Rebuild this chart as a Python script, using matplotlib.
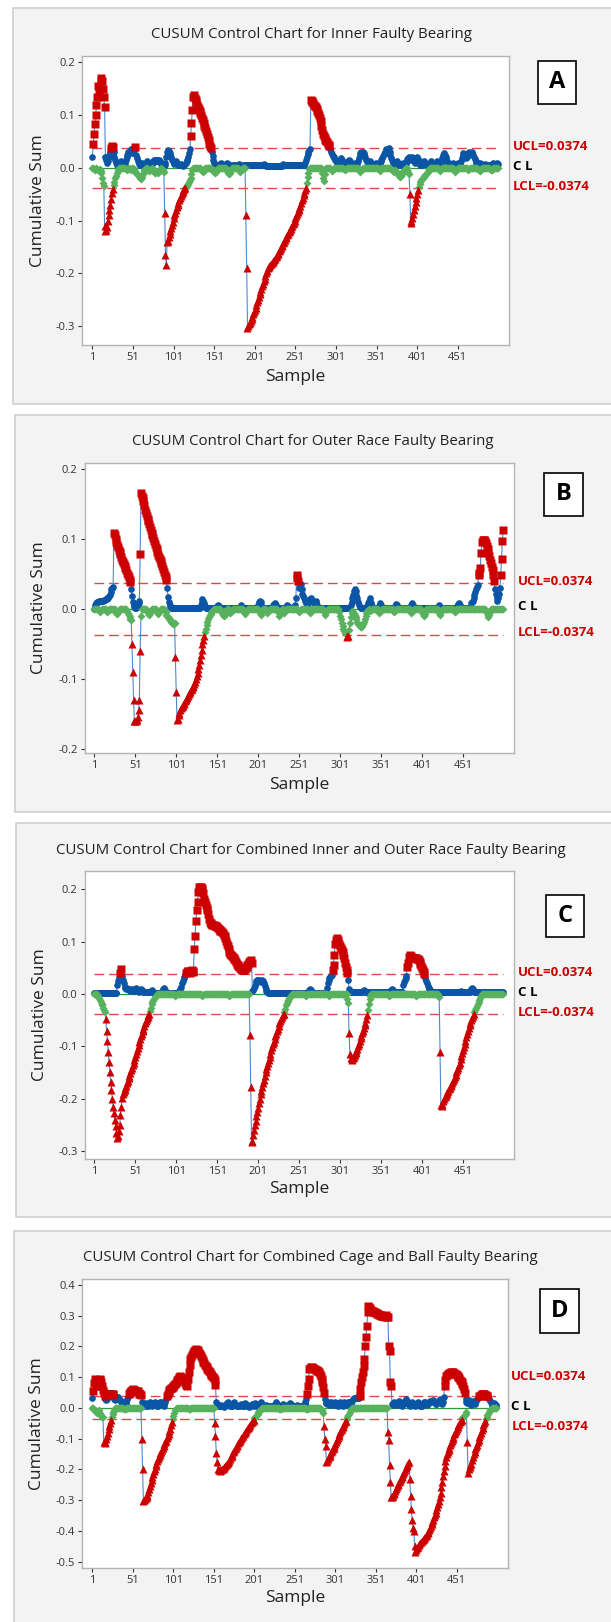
import numpy as np
import matplotlib
matplotlib.use("Agg")
import matplotlib.pyplot as plt
from matplotlib.patches import Rectangle

plt.rcParams['font.family'] = ['Open Sans', 'DejaVu Sans']

UCL = 0.0374
LCL = -0.0374
xticks = [1, 51, 101, 151, 201, 251, 301, 351, 401, 451]

# cusum values, in thousandths, one per sample (1..500)
A_up = ([20, 45, 65, 83, 100, 120, 135, 155, 140, 150, 165, 170, 165, 150, 135, 115]
        + [20, 15, 10, 12, 20, 25, 30, 38, 42, 40, 30, 20, 15, 10, 5, 3]
        + [5, 8, 10, 12, 10, 8, 6, 8, 10, 15, 20]
        + [25, 30, 28, 32, 35, 30, 28, 32, 36, 40, 35, 25, 18, 12]
        + [8, 6, 5, 8, 10, 8, 6, 5, 8, 10, 12, 10, 8, 6, 5, 6, 8, 10]
        + [12, 14, 15, 14, 12, 13, 15, 14, 12, 10, 8, 6, 5, 4, 5, 10, 20]
        + [30, 33, 32, 28, 25, 20, 15, 12]
        + [10, 8, 10, 12, 10, 8, 6, 5, 6, 8, 6, 5, 4, 5, 8, 10, 12, 15, 20, 28]
        + [35, 60, 85, 110, 135, 138, 132, 128, 124, 120, 116, 112, 108, 104, 100, 95, 90,
           85, 80, 75, 70, 64, 58, 52, 46, 42, 38]
        + [30, 22, 15, 10, 8, 6, 5, 4, 5, 6, 8, 10, 8]
        + [6, 5, 4, 5, 6, 8, 10, 8, 6, 5, 4, 3, 4, 5, 6, 5, 4, 3, 4, 5, 6, 8, 6, 5, 4, 3, 4, 5, 6, 5]
        + [5] * 20 + [6, 8, 6, 5] + [4] * 20 + [6, 8, 6] + [5] * 25
        + [10, 15, 20, 26, 30, 34, 36]
        + [128, 126, 124, 122, 120, 118, 115, 112, 108, 104, 100, 95, 88, 80, 72, 65, 60, 56,
           52, 50, 48, 46, 44, 42]
        + [35, 30, 26, 22, 20, 18, 15, 12, 10, 8, 10, 12, 15, 18, 15, 12, 10]
        + [8, 6, 5, 6, 8, 12, 15, 12, 8, 6, 5, 6, 8, 10, 8, 6, 8, 12, 18, 24]
        + [28, 30, 26, 30, 28, 24, 20, 15, 12, 10, 8, 10, 12, 10, 8]
        + [6, 5, 6, 8, 10, 8, 6, 5, 6, 8, 12, 15, 18, 22, 26]
        + [30, 36, 32, 28, 34, 37, 30, 24, 18, 14, 10, 8, 6, 8, 10]
        + [12, 10, 8, 6, 5, 6, 8, 10, 8, 6, 5, 8, 12, 16, 18]
        + [20, 16, 14, 18, 20, 16, 12, 10, 14, 18, 20, 16, 12, 8, 6, 5, 6, 8, 10, 12]
        + [10, 8, 6, 5, 6, 8, 10, 12, 10, 8, 6, 5, 6, 8, 10, 12, 10, 8, 6, 8, 12, 18, 24, 28, 24]
        + [20, 16, 12, 10, 8, 6, 5, 6, 8, 10, 8, 6, 5, 6, 8, 10, 8, 6, 8, 12]
        + [18, 24, 28, 26, 22, 18, 20, 24, 28, 30, 28, 26, 30, 28, 24, 20, 16, 12, 10, 8, 6, 8, 10, 8, 6]
        + [5, 4, 5, 6, 8, 6, 5, 4, 5, 6, 5, 4, 6, 8, 10, 8, 6, 8, 10, 8])

A_lo = ([0, 0, -2, -4, -2, 0, -3, -5, -4, -2, -6, -10, -20, -28, -35, -110, -120, -118, -112,
         -100, -90, -80, -70, -60, -48, -40, -32, -26, -20, -15, -10, -6, -2]
        + [0] * 8 + [-3, -5, -3, 0, 0, -2, -4, -2, 0, 0, -3, -6, -8, -10, -12, -14, -16, -18]
        + [-20, -22, -18, -12, -8, -5, -3, 0, 0, -2, -4, -6, -4, -2, 0, -3, -6, -8, -10, -8, -6,
           -8, -10, -7, -4, -2, 0, -3, -5, -8]
        + [-85, -165, -185, -140, -138, -132, -126, -120, -114, -108, -102, -96, -90, -85, -80,
           -75, -70, -66, -62, -58, -54, -50, -46, -43, -40, -38, -36, -34, -32, -30, -27, -24,
           -20, -12, -4]
        + [0] * 10 + [-3, -6, -8, -6, -3] + [0] * 8 + [-2, -4, -6, -8, -10, -8, -5, -2] + [0] * 10
        + [-3, -6, -10, -12, -10, -6, -3] + [0] * 8 + [-2, -5, -8, -5, -2] + [0] * 4
        + [-90, -190, -303, -300, -297, -294, -290, -286, -282, -278, -274, -270, -265, -260,
           -255, -250, -245, -240, -235, -230, -225, -220, -215, -210, -205, -200, -195, -190,
           -188, -186, -184, -182, -180, -178, -176, -174, -172, -170, -167, -164, -161, -158,
           -155, -152, -149, -146, -143, -140, -137, -134, -131, -128, -125, -122, -119, -116,
           -113, -110, -107, -104, -100, -96, -92, -88, -84, -80, -76, -72, -67, -62, -57, -52,
           -47, -42, -38, -28, -18]
        + [-10, -3] + [0] * 15 + [-10, -20, -25, -12, -3]
        + [0] * 6 + [-3, -6, -4, -2] + [0] * 12 + [-3, -5, -3] + [0] * 15 + [-2, -5, -8, -5, -2]
        + [0] * 20 + [-3, -6, -3] + [0] * 12 + [-2, -4, -6, -8, -6, -4, -6, -10, -12, -14, -16, -18]
        + [-16, -12, -8, -6, -4, -2, 0, 0, -4, -8, -12]
        + [-50, -105, -100, -95, -88, -80, -72, -65, -58, -50, -42, -36, -30, -27, -24, -22, -20,
           -18, -16, -14, -12, -10, -8, -5, -3, 0]
        + [0] * 10 + [-3, -6, -3] + [0] * 15 + [-2, -5, -8, -5, -2] + [0] * 12 + [-3, -5, -3]
        + [0] * 10 + [-2, -4, -6, -4, -2] + [0] * 10 + [-3, -5, -4, -2, 0] + [0] * 5)

B_up = ([0, 5, 8, 10, 10, 10, 11, 11, 12, 12, 12, 12, 13, 13, 14, 14, 15, 16, 18, 20, 24, 28, 30, 32]
        + [108, 105, 100, 96, 92, 88, 84, 81, 78, 74, 70, 67, 64, 61, 58, 55, 52, 48, 45, 42, 39]
        + [29, 18, 10, 5, 3, 2, 2, 3, 5, 8, 12]
        + [78, 165, 162, 158, 154, 148, 142, 137, 133, 129, 125, 121, 117, 113, 109, 105, 101,
           97, 93, 89, 85, 81, 77, 74, 71, 68, 65, 61, 57, 53, 49, 45, 41]
        + [30, 17, 10, 5, 3, 2, 2, 2, 2, 2, 2]
        + [2] * 30
        + [5, 10, 14, 12, 8, 4, 2, 2, 2, 2]
        + [2] * 10 + [4, 6, 4] + [2] * 25 + [3, 5, 3] + [2] * 19
        + [6, 10, 12, 10, 6, 3, 2, 2, 2, 2, 2, 2, 2, 2, 2, 2, 2, 3, 5, 7, 8, 7, 5, 3, 2, 2, 2, 2, 2, 2]
        + [2, 2, 2, 2, 3, 5, 4, 2, 2, 2, 2, 2, 2, 3, 3, 5, 15]
        + [48, 44, 40, 30, 36, 36, 28, 22, 18, 15, 12, 8, 5]
        + [5, 8, 12, 14, 15, 14, 12, 10, 8, 10, 12, 10, 6, 3, 2] + [2] * 25
        + [2] * 13 + [5, 10, 15, 20, 25, 28, 25, 20, 15, 10, 6, 3] + [2] * 8 + [4, 8, 12, 15, 12, 8, 4]
        + [2] * 8 + [4, 8, 6, 3] + [2] * 15 + [4, 7, 5, 3] + [2] * 15 + [3, 6, 8, 5, 3] + [2] * 9
        + [2] * 20 + [3, 5, 3] + [2] * 20 + [4, 7, 8, 6, 3] + [2] * 12
        + [8, 10, 12, 16, 20, 24, 28, 32, 34, 48, 52, 58, 80, 96, 98, 99, 98, 97, 94, 90, 85, 80,
           75, 70, 65, 60, 55, 48, 40, 29, 22, 15, 12, 15, 22, 30, 48, 72, 97, 113])

B_lo = ([0] * 6 + [-2, -4, -2] + [0] * 6 + [-3, -5, -3] + [0] * 8 + [-3, -6, -7, -5, -2] + [0] * 9
        + [-3, -6, -9, -12]
        + [-14, -16, -50, -90, -130, -160, -160, -160, -158, -155, -145, -130, -60, -10, 0]
        + [0] * 5 + [-2, -4, -6, -8, -6, -3] + [0] * 6 + [-3, -5, -7, -5, -3] + [0] * 5
        + [-2, -5, -8, -10, -12, -14, -15, -16, -18, -20]
        + [-21, -22, -20]
        + [-69, -119, -159, -157, -152, -148, -145, -142, -140, -138, -136, -134, -132, -130, -127, -124]
        + [-122, -120, -118, -116, -114, -112, -110, -107, -104, -100, -96, -91, -86, -80, -73,
           -66, -58, -50, -44, -38, -33, -28, -23, -19, -15, -12, -9, -7, -5, -3, -1, 0]
        + [0] * 8 + [-3, -6, -9, -10, -8, -5, -2] + [0] * 3 + [-3, -6, -4, -2] + [0] * 13
        + [-3, -5, -7, -4, -2] + [0] * 14 + [-3, -6, -8, -5, -2] + [0] * 4 + [-3, -6, -4, -2]
        + [0] * 10 + [-3, -6, -10, -7, -4] + [0] * 2 + [-3, -6, -3] + [0] * 15 + [-2, -5, -3]
        + [0] * 10 + [-3, -6, -4] + [0] * 15 + [-3, -6, -8, -5, -2] + [0] * 14
        + [-5, -10, -15, -20, -24, -28, -31, -34, -36, -38, -40, -38, -30, -20, -12, -6, -3]
        + [-4, -6, -9, -12, -15, -18, -21, -23, -25, -26, -26, -25, -22, -18, -14, -10, -6, -3,
           -1, 0, -2, -3, -1, 0]
        + [0] * 7 + [-3, -6, -4, -2] + [0] * 14 + [-3, -5, -3] + [0] * 18 + [-3, -6, -4, -2]
        + [0] * 10 + [-4, -7, -10, -7, -3] + [0] * 15 + [-3, -6, -8, -5, -2] + [0] * 14
        + [-3, -5, -3] + [0] * 36 + [-3, -6, -9, -11, -8, -4] + [0] * 16)

C_up = ([2] * 28
        + [17, 25, 30, 33, 40, 47, 35, 27, 20, 14, 12, 10, 11, 10, 8, 9]
        + [6, 8, 10, 8, 6, 5, 8, 11, 9, 6, 4, 5, 8, 10, 8, 5, 3] + [3] * 8 + [5, 8, 6, 3]
        + [2] * 10 + [5, 9, 11, 8, 4] + [2] * 16
        + [5, 10, 14, 20, 25, 30, 33, 36, 40, 42, 43, 44, 42, 40, 43, 45, 44, 42]
        + [85, 110, 140, 160, 175, 195, 205, 205, 204, 202]
        + [199, 192, 182, 176, 170, 165, 160, 152, 144, 138]
        + [135, 133, 132, 131, 131, 130, 130, 129, 128, 126]
        + [124, 122, 121, 120, 118, 116, 113, 110, 106, 101]
        + [96, 91, 86, 81, 77, 74, 72, 70, 68, 66]
        + [64, 61, 58, 55, 53, 51, 49, 47, 46, 45]
        + [45, 46, 48, 50, 52, 55, 58, 61, 63, 64, 60]
        + [5, 8, 12, 16, 20, 24, 26, 27, 26, 24, 22, 24, 26, 24, 20, 15, 10, 6, 3] + [2] * 39
        + [2] * 10 + [4, 7, 10, 8, 5, 3] + [2] * 17
        + [12, 20, 26, 30, 33, 35, 36, 45, 55, 75, 95, 103, 106, 104, 100, 96, 92, 88, 84, 80,
           75, 68, 60, 52, 45, 40, 27, 10, 5]
        + [4] * 15 + [6, 8, 6] + [3] * 30 + [5, 8, 10, 8, 5] + [3] * 11
        + [17, 22, 27, 30, 35, 52, 60, 70, 74, 73, 71, 69, 68, 68, 68, 69, 68, 67, 66, 65,
           62, 58, 54, 50, 46, 42, 38, 30, 25, 20, 15, 12, 10, 8, 6]
        + [4] * 15 + [3] * 20 + [5, 4] + [3] * 10 + [6, 10, 12, 9, 5] + [3] * 36)

C_lo = ([0, 0, 0, 0, -3, -6, -8, -12, -16, -20, -22, -26, -30, -34]
        + [-48, -70, -90, -110, -130, -150, -168, -184, -200, -215]
        + [-228, -240, -252, -265, -275, -272, -262, -250, -232, -215]
        + [-198, -192, -188, -184, -180, -176, -171, -166, -161, -156]
        + [-151, -146, -141, -136, -131, -126, -121, -115, -109, -103]
        + [-97, -91, -86, -81, -76, -71, -66, -61, -56, -52]
        + [-48, -44, -40, -38, -33, -26, -20, -16, -12, -9]
        + [-6, -4, -2, 0]
        + [0] * 20 + [-2, -3, -2] + [0] * 30 + [-2, -3, -2] + [0] * 30 + [-2, -3, -2] + [0] * 22
        + [0, -78, -177, -282, -280, -270, -260, -250, -242, -234]
        + [-226, -218, -208, -200, -192, -185, -178, -171, -164, -157]
        + [-150, -144, -138, -132, -126, -120, -114, -108, -102, -96]
        + [-91, -86, -81, -76, -71, -66, -61, -56, -52, -48]
        + [-44, -40, -38, -34, -28, -22, -18, -14, -11, -8]
        + [-5, -3, -1]
        + [0] * 15 + [-2, -3, -2] + [0] * 25 + [-2, -3, -2] + [0] * 21
        + [-10, -18, -75, -115, -123, -125, -126, -123, -120, -117]
        + [-113, -109, -105, -100, -95, -90, -85, -80, -75, -70]
        + [-65, -60, -55, -48, -40, -30, -20, -10, -4, 0]
        + [0] * 20 + [-2, -3, -2] + [0] * 30 + [-2, -4, -2] + [0] * 25
        + [-3, -6, -110, -212, -214, -210, -205, -201, -197, -194]
        + [-191, -188, -185, -182, -179, -176, -173, -170, -166, -162]
        + [-158, -154, -150, -146, -141, -136, -131, -125, -119, -113]
        + [-107, -101, -95, -89, -83, -77, -71, -65, -60, -55]
        + [-50, -46, -42, -39, -35, -31, -27, -23, -19, -15]
        + [-11, -7, -4, -1]
        + [0] * 26)

D_up = ([34, 55, 80, 95, 90, 80, 70, 72, 80, 90, 94, 85, 70, 60, 50, 40, 30, 25, 30, 36]
        + [45, 46, 45, 44, 45, 44, 42, 30, 25, 30, 36, 36, 35, 30, 25, 20, 18, 15, 18, 20, 18,
           15, 20, 30, 36]
        + [45, 48, 51, 55, 60, 62, 60, 58, 56, 55, 56, 54, 50, 46, 45, 42, 20]
        + [10, 5, 8, 12, 15, 10, 6, 8, 12, 18, 14, 10, 8, 12, 16, 20, 15, 10, 6, 8, 10, 14, 18,
           20, 16, 12, 8, 12, 20, 30]
        + [38, 45, 52, 58, 62, 64, 66, 68, 72, 75]
        + [78, 82, 86, 90, 95, 100, 105, 102, 98, 94]
        + [94, 90, 84, 78, 74, 72, 95, 116, 140, 159]
        + [166, 172, 178, 182, 186, 190, 192, 190, 187, 183]
        + [179, 175, 168, 162, 156, 150, 145, 140, 136, 132]
        + [128, 124, 120, 116, 112, 108, 104, 100, 96, 92]
        + [75]
        + [20, 12, 8, 5, 6, 8, 10, 8, 5, 4, 5, 8, 12, 15, 18, 15, 12, 8, 6, 5]
        + [8, 12, 18, 14, 10, 6, 5, 6, 8, 10, 12, 10, 8, 6, 8, 12, 16, 12, 8, 6]
        + [5, 4, 5, 8, 12, 10, 8, 12, 16, 12, 8, 6, 8, 10, 14, 18, 14, 10, 6, 5]
        + [6, 8, 10, 8, 6, 5, 4, 6, 8, 6, 5, 6, 10, 14, 18, 14, 10, 8, 6, 5]
        + [4, 5, 8, 12, 10, 8, 6, 5, 6, 8, 12, 16, 12, 8, 6, 5, 4, 5, 6, 8]
        + [10, 8, 6, 5, 6, 8, 6, 5, 8, 12, 20, 30]
        + [45, 70, 94, 127, 130, 132, 132, 131, 130, 128, 127, 125, 123, 121, 120, 118, 112,
           104, 94, 85, 67, 50, 29, 15]
        + [15, 12, 18, 14, 10, 15, 20, 16, 12, 10, 14, 18, 15, 10, 8, 12, 16, 20, 15, 10]
        + [8, 12, 18, 14, 10, 12, 16, 20, 18, 14, 12, 18, 24, 30, 34, 34, 32, 34, 35, 34, 33]
        + [40, 62, 83, 100, 116, 135, 160, 200, 232, 268]
        + [311, 333, 330, 325, 320, 316, 314, 313, 312, 311]
        + [309, 308, 306, 305, 304, 302, 301, 300, 300, 299]
        + [298, 297, 300, 303, 296, 295, 203, 186, 83, 72]
        + [13, 10, 15, 20, 16, 12, 10, 14, 18, 22, 18, 14, 10, 8, 12, 18, 24, 28, 24, 18]
        + [14, 10, 8, 12, 16, 20, 16, 12, 10, 8, 10, 14, 18, 14, 10, 8, 6, 8, 12, 16]
        + [20, 18, 14, 10, 12, 16, 20, 24, 22, 18, 22, 26, 22, 18, 14, 12, 16, 20, 24, 28]
        + [22, 16, 12, 20, 36]
        + [72, 90, 105, 108, 110, 112, 113, 115, 116, 116, 116, 115, 114, 112, 110, 108, 104,
           100, 96, 92, 88, 83, 78, 72, 62, 50, 29, 20, 15, 20, 25, 18, 12, 10, 15]
        + [22, 18, 14, 18, 24, 30, 34, 36, 38, 40, 42, 44, 45, 45, 44, 43, 42, 40, 38, 34, 28,
           22, 18, 14, 10, 12, 15, 12, 10, 8])

D_lo = ([0, 0, -5, -8, -10, -12, -15, -10, -8, -15, -20, -25, -30, -30, -110, -115, -110,
         -100, -90, -80, -70, -60, -50, -40, -30, -20, -12, -5, 0]
        + [0] * 10 + [-2, -3, -2] + [0] * 19
        + [-100, -199, -302, -300, -297, -293, -288, -282, -274, -265]
        + [-255, -245, -235, -225, -215, -206, -198, -190, -182, -174]
        + [-166, -160, -154, -148, -142, -136, -130, -124, -118, -112]
        + [-106, -99, -92, -84, -76, -67, -57, -46, -36, -26]
        + [-16, -8, -2]
        + [0] * 15 + [-2, -3, -2] + [0] * 29
        + [-50, -90, -145, -175, -199, -202, -204, -203, -202, -200]
        + [-198, -196, -193, -190, -187, -183, -179, -175, -171, -166]
        + [-161, -156, -150, -144, -139, -134, -129, -124, -119, -114]
        + [-110, -106, -102, -98, -94, -90, -86, -82, -78, -74]
        + [-70, -66, -62, -58, -54, -50, -46, -42, -38, -34]
        + [-30, -26, -22, -18, -14, -10, -7, -4, -2, 0]
        + [0] * 20 + [-2, -3, -2] + [0] * 30 + [-2, -3, -2] + [0] * 15 + [-3, -6, -10, -15]
        + [-60, -100, -123, -177, -172, -166, -160, -155, -150, -144]
        + [-139, -134, -129, -123, -117, -111, -104, -97, -90, -84]
        + [-78, -73, -68, -63, -58, -52, -47, -42, -36, -30]
        + [-24, -18, -12, -6, -2, 0]
        + [0] * 43
        + [-79, -105, -185, -240, -290, -290, -286, -280, -275, -270]
        + [-264, -258, -252, -247, -242, -237, -232, -226, -220, -214]
        + [-208, -202, -196, -190, -184, -178, -175, -232, -285, -330]
        + [-365, -390, -400, -450, -470, -462, -456, -451, -447, -443]
        + [-439, -436, -433, -430, -427, -424, -420, -416, -412, -408]
        + [-404, -398, -392, -385, -378, -371, -364, -356, -348, -340]
        + [-331, -322, -313, -304, -290, -275, -258, -240, -222, -205]
        + [-190, -172, -158, -150, -143, -136, -129, -122, -115, -108]
        + [-100, -93, -86, -80, -74, -68, -62, -57, -52, -47]
        + [-42, -38, -34, -30, -26, -22, -18, -14, -112, -210]
        + [-200, -193, -187, -181, -170, -160, -150, -142, -135, -128]
        + [-120, -112, -104, -96, -88, -80, -72, -64, -56, -48]
        + [-42, -36, -30, -24, -18, -12, -8, -4, -2, 0]
        + [0, 0, 0, 0, 0])

titles = ["CUSUM Control Chart for Inner Faulty Bearing",
          "CUSUM Control Chart for Outer Race Faulty Bearing",
          "CUSUM Control Chart for Combined Inner and Outer Race Faulty Bearing",
          "CUSUM Control Chart for Combined Cage and Ball Faulty Bearing"]
letters = ["A", "B", "C", "D"]
yticks_A = [0.2, 0.1, 0.0, -0.1, -0.2, -0.3]
yticks_B = [0.2, 0.1, 0.0, -0.1, -0.2]
yticks_C = [0.2, 0.1, 0.0, -0.1, -0.2, -0.3]
yticks_D = [0.4, 0.3, 0.2, 0.1, 0.0, -0.1, -0.2, -0.3, -0.4, -0.5]

for name, s in [("A_up", A_up), ("A_lo", A_lo), ("B_up", B_up), ("B_lo", B_lo),
                ("C_up", C_up), ("C_lo", C_lo), ("D_up", D_up), ("D_lo", D_lo)]:
    assert len(s) == 500, (name, len(s))

W, H = 611, 1622
fig = plt.figure(figsize=(W / 100, H / 100), dpi=100)
fig.patch.set_facecolor("white")


def fx(px):
    return px / W


def fy(py):
    return 1 - py / H


# layout in pixels: frame box, plot box, text anchors
layout = [
    dict(frame=(13, 8, 640, 404), plot=(82.2, 56, 508.6, 345), ylim=(-0.336, 0.212),
         xlim=(-11.6, 513.6), title=(311, 34), ylab=(38, 200.5), xlab=(295, 377),
         lim_x=513, lim_y=(147, 167, 186), box=(538, 61, 576, 104)),
    dict(frame=(15, 415, 640, 812), plot=(84.6, 462.7, 514.4, 752.7), ylim=(-0.2053, 0.209),
         xlim=(-10.8, 513.7), title=(313, 441.7), ylab=(39, 607.7), xlab=(299, 785),
         lim_x=518, lim_y=(581.7, 607, 632.7), box=(544, 473, 583, 516)),
    dict(frame=(16, 823, 640, 1217), plot=(84.6, 870.7, 513.6, 1159), ylim=(-0.3153, 0.2355),
         xlim=(-10.8, 512.8), title=(311, 850.7), ylab=(40, 1015), xlab=(299, 1189),
         lim_x=517.5, lim_y=(973, 993, 1012), box=(545.6, 895, 583.8, 937)),
    dict(frame=(13.6, 1231, 640, 1640), plot=(82.2, 1279, 507.8, 1568), ylim=(-0.5205, 0.4195),
         xlim=(-11.6, 514.1), title=(310.4, 1257.7), ylab=(37, 1423.5), xlab=(295, 1598),
         lim_x=511.3, lim_y=(1376, 1406.7, 1426.7), box=(539.7, 1289, 578.7, 1332.7)),
]

series = [(A_up, A_lo, yticks_A), (B_up, B_lo, yticks_B), (C_up, C_lo, yticks_C), (D_up, D_lo, yticks_D)]

BLUE = "#0a55a5"
LINE = "#4d89cf"
GREEN = "#58b15c"
RED = "#cc0000"

for i, (lay, (up, lo, yt)) in enumerate(zip(layout, series)):
    x0, y0, x1, y1 = lay["frame"]
    fig.patches.append(Rectangle((fx(x0), fy(y1)), fx(x1 - x0), (y1 - y0) / H,
                                 transform=fig.transFigure, facecolor="#f3f3f3",
                                 edgecolor="#d0d0d0", lw=1.2, zorder=-5))
    px0, py0, px1, py1 = lay["plot"]
    ax = fig.add_axes([fx(px0), fy(py1), fx(px1 - px0), (py1 - py0) / H])
    ax.set_zorder(2)
    ax.set_facecolor("white")

    x = np.arange(1, 501)
    u = np.array(up) / 1000.0
    l = np.array(lo) / 1000.0

    ax.plot([1, 500], [0, 0], color="#2f9a35", lw=0.9, zorder=1)
    ax.plot([1, 500], [UCL, UCL], color="#e04848", lw=1.0, dashes=(7, 3.5), zorder=1)
    ax.plot([1, 500], [LCL, LCL], color="#e04848", lw=1.0, dashes=(7, 3.5), zorder=1)
    ax.plot(x, u, color=LINE, lw=0.8, zorder=2)
    ax.plot(x, l, color=LINE, lw=0.8, zorder=2)

    ok = u <= UCL
    ax.plot(x[ok], u[ok], "o", ms=4.8, color=BLUE, mec="none", zorder=3)
    ax.plot(x[~ok], u[~ok], "s", ms=5.2, color=RED, mec="none", zorder=4)
    ok = l >= LCL
    ax.plot(x[ok], l[ok], "D", ms=4.2, color=GREEN, mec="none", zorder=4)
    ax.plot(x[~ok], l[~ok], "^", ms=6.0, color=RED, mec="none", zorder=5)

    ax.set_xlim(*lay["xlim"])
    ax.set_ylim(*lay["ylim"])
    ax.set_xticks(xticks)
    ax.set_xticklabels([str(t) for t in xticks])
    ax.set_yticks(yt)
    ax.set_yticklabels([f"{t:.1f}".replace("-0.0", "0.0") for t in yt])
    ax.tick_params(labelsize=8, colors="#333333", length=3, width=0.8, pad=2)
    for sp in ax.spines.values():
        sp.set_color("#b4b4b4")
        sp.set_linewidth(1.0)

    tx, ty = lay["title"]
    fig.text(fx(tx), fy(ty), titles[i], ha="center", va="center", fontsize=10.8, color="#222222")
    lx, ly = lay["ylab"]
    fig.text(fx(lx), fy(ly), "Cumulative Sum", rotation=90, ha="center", va="center",
             fontsize=12.5, color="#222222")
    sx, sy = lay["xlab"]
    fig.text(fx(sx), fy(sy), "Sample", ha="center", va="center", fontsize=12.5, color="#222222")

    ux = fx(lay["lim_x"])
    yu, yc, yl = lay["lim_y"]
    fig.text(ux, fy(yu), "UCL=0.0374", ha="left", va="center", fontsize=9.5, fontweight="bold", color=RED)
    fig.text(ux, fy(yc), "C L", ha="left", va="center", fontsize=9.5, fontweight="bold", color="black")
    fig.text(ux, fy(yl), "LCL=-0.0374", ha="left", va="center", fontsize=9.5, fontweight="bold", color=RED)

    bx0, by0, bx1, by1 = lay["box"]
    fig.patches.append(Rectangle((fx(bx0), fy(by1)), fx(bx1 - bx0), (by1 - by0) / H,
                                 transform=fig.transFigure, facecolor="white",
                                 edgecolor="black", lw=1.2, zorder=5))
    fig.text(fx((bx0 + bx1) / 2), fy((by0 + by1) / 2), letters[i], ha="center", va="center",
             fontsize=17, fontweight="bold", color="black", zorder=6)

fig.savefig("out.png", dpi=100, facecolor="white")
